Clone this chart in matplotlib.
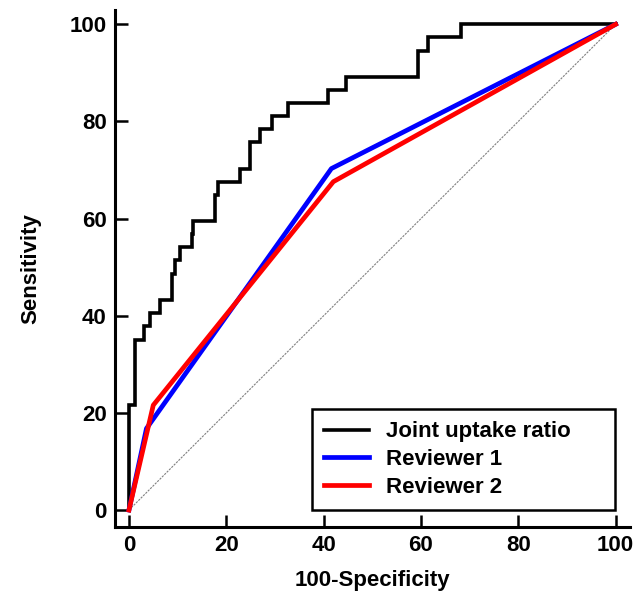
import matplotlib
matplotlib.use("Agg")
import matplotlib.pyplot as plt

plt.rcParams['font.family'] = ['Liberation Sans', 'DejaVu Sans']
plt.rcParams['font.weight'] = 'bold'

# ROC data (percent)
joint_x = [0, 0, 1.2, 3.0, 4.3, 6.4, 8.8, 9.4, 10.5, 12.9, 13.2, 17.7, 18.3,
           22.8, 24.8, 26.9, 29.3, 32.7, 40.9, 44.7, 59.4, 61.5, 68.3, 100]
joint_y = [0, 21.6, 35.1, 37.8, 40.5, 43.2, 48.6, 51.4, 54.1, 56.8, 59.5, 64.9, 67.6,
           70.3, 75.7, 78.4, 81.1, 83.8, 86.5, 89.2, 94.6, 97.3, 100, 100]

rev1_x = [0, 3.6, 41.6, 100]
rev1_y = [0, 16.8, 70.3, 100]

rev2_x = [0, 5.0, 42.0, 100]
rev2_y = [0, 21.6, 67.6, 100]

labels = ["Joint uptake ratio", "Reviewer 1", "Reviewer 2"]
x_ticks = [0, 20, 40, 60, 80, 100]
y_ticks = [0, 20, 40, 60, 80, 100]


def main():
    fig = plt.figure(figsize=(6.38, 6.01), dpi=100)
    ax = fig.add_axes([0.180, 0.123, 0.807, 0.860])

    # chance line
    ax.plot([0, 100], [0, 100], color="#808080", lw=0.8, linestyle=(0, (2, 1)))

    ax.plot(joint_x, joint_y, color="black", lw=2.6, drawstyle="steps-post",
            label=labels[0], solid_joinstyle="miter")
    ax.plot(rev1_x, rev1_y, color="#0000ff", lw=3.4, label=labels[1])
    ax.plot(rev2_x, rev2_y, color="#ff0000", lw=3.4, label=labels[2])

    ax.set_xlim(-2.9, 102.9)
    ax.set_ylim(-3.5, 102.9)
    ax.set_xticks(x_ticks)
    ax.set_yticks(y_ticks)

    for side in ["top", "right"]:
        ax.spines[side].set_visible(False)
    for side in ["left", "bottom"]:
        ax.spines[side].set_linewidth(2.2)

    ax.tick_params(direction="in", length=9, width=1.8, labelsize=16, pad=6)

    ax.set_xlabel("100-Specificity", fontsize=16, fontweight="bold", labelpad=10)
    ax.set_ylabel("Sensitivity", fontsize=16, fontweight="bold", labelpad=20)

    # legend box stretched to the width used in the original
    leg = ax.legend(loc="lower left", bbox_to_anchor=(0.383, 0.033, 0.588, 0.2),
                    mode="expand", borderaxespad=0, fancybox=False, framealpha=1,
                    edgecolor="black", fontsize=16, handlelength=2.0,
                    handletextpad=0.8, labelspacing=0.3, borderpad=0.55)
    leg.get_frame().set_linewidth(1.8)
    for text in leg.get_texts():
        text.set_fontweight("bold")

    fig.savefig("out.png", dpi=100)


if __name__ == "__main__":
    main()
